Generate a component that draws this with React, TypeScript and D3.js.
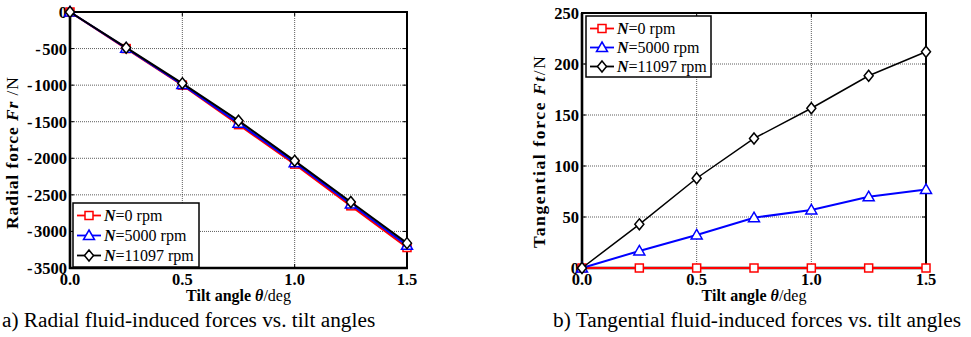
import * as d3 from 'd3';
import React from 'react';

// tilt angles (deg)
const angles = [0, 0.25, 0.5, 0.75, 1.0, 1.25, 1.5];

// radial force Fr (N)
const radial0 = [0, -500, -1000, -1540, -2080, -2650, -3220];
const radial5000 = [0, -495, -992, -1520, -2060, -2625, -3190];
const radial11097 = [0, -488, -975, -1486, -2035, -2598, -3160];

// tangential force Ft (N)
const tang0 = [0, 0, 0, 0, 0, 0, 0];
const tang5000 = [0, 16.7, 32.4, 49.3, 56.9, 69.9, 77];
const tang11097 = [0, 42.8, 88, 127, 156.6, 188.5, 212];

const xTicks = [0, 0.5, 1.0, 1.5];
const radialTicks = [0, -500, -1000, -1500, -2000, -2500, -3000, -3500];
const tangTicks = [0, 50, 100, 150, 200, 250];

const seriesNames = ['0', '5000', '11097'];
const seriesColors = ['#ff0000', '#0000ff', '#000000'];
const seriesMarkers = ['square', 'triangle', 'diamond'];

const FONT = "'Liberation Serif', 'Times New Roman', serif";

const Marker = ({ kind, x, y, color }) => {
  if (kind === 'square') {
    return <rect x={x - 4} y={y - 4} width={8} height={8} fill="#fff" stroke={color} strokeWidth={1.5} />;
  }
  if (kind === 'triangle') {
    return <path d={`M${x},${y - 5.5}L${x + 5.5},${y + 4}L${x - 5.5},${y + 4}Z`} fill="#fff" stroke={color} strokeWidth={1.5} />;
  }
  return <path d={`M${x},${y - 5.5}L${x + 4.5},${y}L${x},${y + 5.5}L${x - 4.5},${y}Z`} fill="#fff" stroke={color} strokeWidth={1.5} />;
};

const TickText = ({ v }) => {
  if (v < 0) {
    return (
      <>
        <tspan>-</tspan>
        <tspan dx={1.5}>{Math.abs(v)}</tspan>
      </>
    );
  }
  return <>{v}</>;
};

const Panel = ({ left, right, top, bottom, yDomain, yTicks, series, lineWidths, yLabel, yLabelItalic, yLabelUnit, yLabelX, yLabelY, yLabelLen, legend, caption, captionX }) => {
  const x = d3.scaleLinear().domain([0, 1.5]).range([left, right]);
  const y = d3.scaleLinear().domain(yDomain).range([bottom, top]);
  const line = d3.line<number>().x((_, i) => x(angles[i])).y((d) => y(d));

  return (
    <g style={{ fontFamily: FONT }}>
      {/* grid */}
      {xTicks.slice(1, -1).map((t) => (
        <line key={'gx' + t} x1={x(t)} x2={x(t)} y1={top} y2={bottom} stroke="#333" strokeWidth={0.8} strokeDasharray="1,1" />
      ))}
      {yTicks.slice(1, -1).map((t) => (
        <line key={'gy' + t} x1={left} x2={right} y1={y(t)} y2={y(t)} stroke="#333" strokeWidth={0.8} strokeDasharray="1,1" />
      ))}
      {/* frame */}
      <rect x={left} y={top} width={right - left} height={bottom - top} fill="none" stroke="#000" strokeWidth={2} />
      <line x1={left} x2={left} y1={top} y2={bottom + 1} stroke="#000" strokeWidth={2.6} />
      <line x1={left - 1} x2={right + 1} y1={bottom} y2={bottom} stroke="#000" strokeWidth={2.6} />
      {/* ticks */}
      {xTicks.map((t) => (
        <g key={'tx' + t}>
          <line x1={x(t)} x2={x(t)} y1={bottom} y2={bottom - 4} stroke="#000" />
          <line x1={x(t)} x2={x(t)} y1={top} y2={top + 4} stroke="#000" />
          <text x={x(t)} y={bottom + 17} textAnchor="middle" fontWeight="bold" fontSize={16.5}>{t.toFixed(1)}</text>
        </g>
      ))}
      {yTicks.map((t) => (
        <g key={'ty' + t}>
          <line x1={left} x2={left + 4} y1={y(t)} y2={y(t)} stroke="#000" />
          <line x1={right} x2={right - 4} y1={y(t)} y2={y(t)} stroke="#000" />
          <text x={left - 3} y={y(t) + 6} textAnchor="end" fontWeight="bold" fontSize={16.5}><TickText v={t} /></text>
        </g>
      ))}
      {/* series */}
      {series.map((vals, si) => (
        <g key={'s' + si}>
          <path d={line(vals) || ''} fill="none" stroke={seriesColors[si]} strokeWidth={lineWidths[si]} />
          {vals.map((v, i) => (
            <Marker key={i} kind={seriesMarkers[si]} x={x(angles[i])} y={y(v)} color={seriesColors[si]} />
          ))}
        </g>
      ))}
      {/* legend */}
      <g>
        <rect x={legend.x} y={legend.y} width={legend.w} height={legend.h} fill="#fff" stroke="#000" strokeWidth={1.5} />
        {seriesNames.map((n, i) => {
          const ry = legend.y + 12.5 + i * legend.step;
          return (
            <g key={'l' + n}>
              <line x1={legend.x + 4} x2={legend.x + 28} y1={ry} y2={ry} stroke={seriesColors[i]} strokeWidth={1.8} />
              <Marker kind={seriesMarkers[i]} x={legend.x + 16} y={ry} color={seriesColors[i]} />
              <text x={legend.x + 31} y={ry + 5.5} fontSize={16}>
                <tspan fontStyle="italic" fontWeight="bold">N</tspan>={n} rpm
              </text>
            </g>
          );
        })}
      </g>
      {/* axis labels */}
      <text x={(left + right) / 2} y={bottom + 33} textAnchor="middle" fontSize={16} fontWeight="bold">
        Tilt angle <tspan fontStyle="italic">θ</tspan><tspan fontWeight="normal">/deg</tspan>
      </text>
      <text transform={`translate(${yLabelX},${yLabelY}) rotate(-90)`} textAnchor="middle" fontSize={17.5} fontWeight="bold"
        textLength={yLabelLen} lengthAdjust="spacing">
        {yLabel}<tspan fontStyle="italic">{yLabelItalic}</tspan><tspan fontWeight="normal">{yLabelUnit}</tspan>
      </text>
      <text x={captionX} y={bottom + 59} fontSize={21.3}>{caption}</text>
    </g>
  );
};

const App = () => (
  <svg width={971} height={337} style={{ position: 'absolute', left: 0, top: 0, background: '#fff' }}>
    <rect width={971} height={337} fill="#fff" />
    <Panel
      left={70} right={407} top={12} bottom={268}
      yDomain={[-3500, 0]} yTicks={radialTicks}
      series={[radial0, radial5000, radial11097]}
      lineWidths={[2, 2, 2]}
      yLabel="Radial force " yLabelItalic="Fr" yLabelUnit=" /N" yLabelX={18} yLabelY={153} yLabelLen={152}
      legend={{ x: 73, y: 203, w: 126, h: 64, step: 20 }}
      caption="a) Radial fluid-induced forces vs. tilt angles" captionX={2}
    />
    <Panel
      left={582} right={926} top={13} bottom={268}
      yDomain={[0, 250]} yTicks={tangTicks}
      series={[tang0, tang5000, tang11097]}
      lineWidths={[2, 2, 1.5]}
      yLabel="Tangential force " yLabelItalic="Ft" yLabelUnit="/N" yLabelX={545} yLabelY={152} yLabelLen={192}
      legend={{ x: 586, y: 16, w: 125, h: 61, step: 19 }}
      caption="b) Tangential fluid-induced forces vs. tilt angles" captionX={553}
    />
  </svg>
);

export default App;
